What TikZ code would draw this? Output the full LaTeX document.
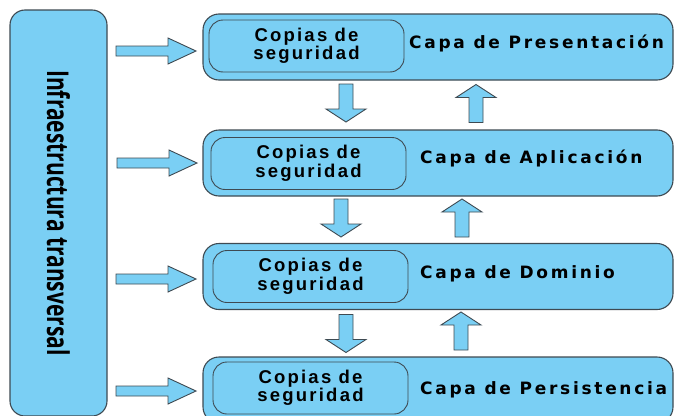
\documentclass[tikz,border=0pt]{standalone}
\usepackage{fontspec}
\setmainfont{Liberation Sans}
\newfontfamily\copfont[LetterSpace=12]{Liberation Sans}
\newfontfamily\capafont[LetterSpace=16]{DejaVu Sans}
\newfontfamily\infrafont[FakeStretch=0.7]{Open Sans}
\usetikzlibrary{positioning}
\definecolor{capablue}{RGB}{122,207,244}
\definecolor{borde}{RGB}{62,74,82}
\tikzset{
  capa/.style={draw=borde, fill=capablue, line width=1.1pt, rounded corners=16pt,
    minimum width=470pt, minimum height=66pt, inner sep=0pt},
  copia/.style={draw=borde, fill=capablue, line width=0.9pt, rounded corners=14pt,
    minimum width=195pt, minimum height=52pt, inner sep=0pt, align=center,
    font=\copfont\bfseries\fontsize{18.5}{18.5}\selectfont},
  titulo/.style={anchor=base west, inner sep=0pt,
    font=\capafont\bfseries\fontsize{17}{20}\selectfont},
  flecha/.style={draw=borde, fill=capablue, line width=0.9pt, line join=miter},
  pics/derecha/.style={code={
    \draw[flecha] (-40,-5) -- (12,-5) -- (12,-13) -- (40,0) -- (12,13) -- (12,5) -- (-40,5) -- cycle;}},
  pics/abajo/.style={code={
    \draw[flecha] (-7,-19) -- (7,-19) -- (7,6) -- (20,6) -- (0,19) -- (-20,6) -- (-7,6) -- cycle;}},
}
\begin{document}
\begin{tikzpicture}[x=1pt,y=-1pt]
  \useasboundingbox (0,0) rectangle (674,415);
  \clip (0,0) rectangle (674,415);
  % infraestructura
  \node[draw=borde, fill=capablue, line width=1.1pt, rounded corners=15pt, rotate=-90,
    minimum width=406pt, minimum height=97pt, inner sep=0pt,
    font=\infrafont\bfseries\fontsize{30}{32}\selectfont] (infra) at (58.5,213) {Infraestructura transversal};
  % capas
  \node[capa] (pres) at (438,47) {};
  \node[capa] (apl) at (438,163) {};
  \node[capa] (dom) at (438,276.5) {};
  \node[capa] (pers) at (438,390) {};
  \node[copia] (cop1) at (306.5,46) {Copias de\\seguridad};
  \node[copia] (cop2) at (308.5,163.5) {Copias de\\seguridad};
  \node[copia] (cop3) at (310.5,276.5) {Copias de\\seguridad};
  \node[copia] (cop4) at (310.5,388) {Copias de\\seguridad};
  \node[titulo] (tpres) at (409,48) {Capa de Presentación};
  \node[titulo] (tapl) at (420,163) {Capa de Aplicación};
  \node[titulo] (tdom) at (420,278) {Capa de Dominio};
  \node[titulo] (tpers) at (420,394) {Capa de Persistencia};
  % flechas
  \pic at (156,51) {derecha};
  \pic at (157,163) {derecha};
  \pic at (156,279) {derecha};
  \pic at (156,391) {derecha};
  \pic at (346,103) {abajo};
  \pic at (341,218) {abajo};
  \pic at (346,333.5) {abajo};
  \pic[rotate=180] at (476,103.5) {abajo};
  \pic[rotate=180] at (462,218) {abajo};
  \pic[rotate=180] at (461,331) {abajo};
\end{tikzpicture}
\end{document}
